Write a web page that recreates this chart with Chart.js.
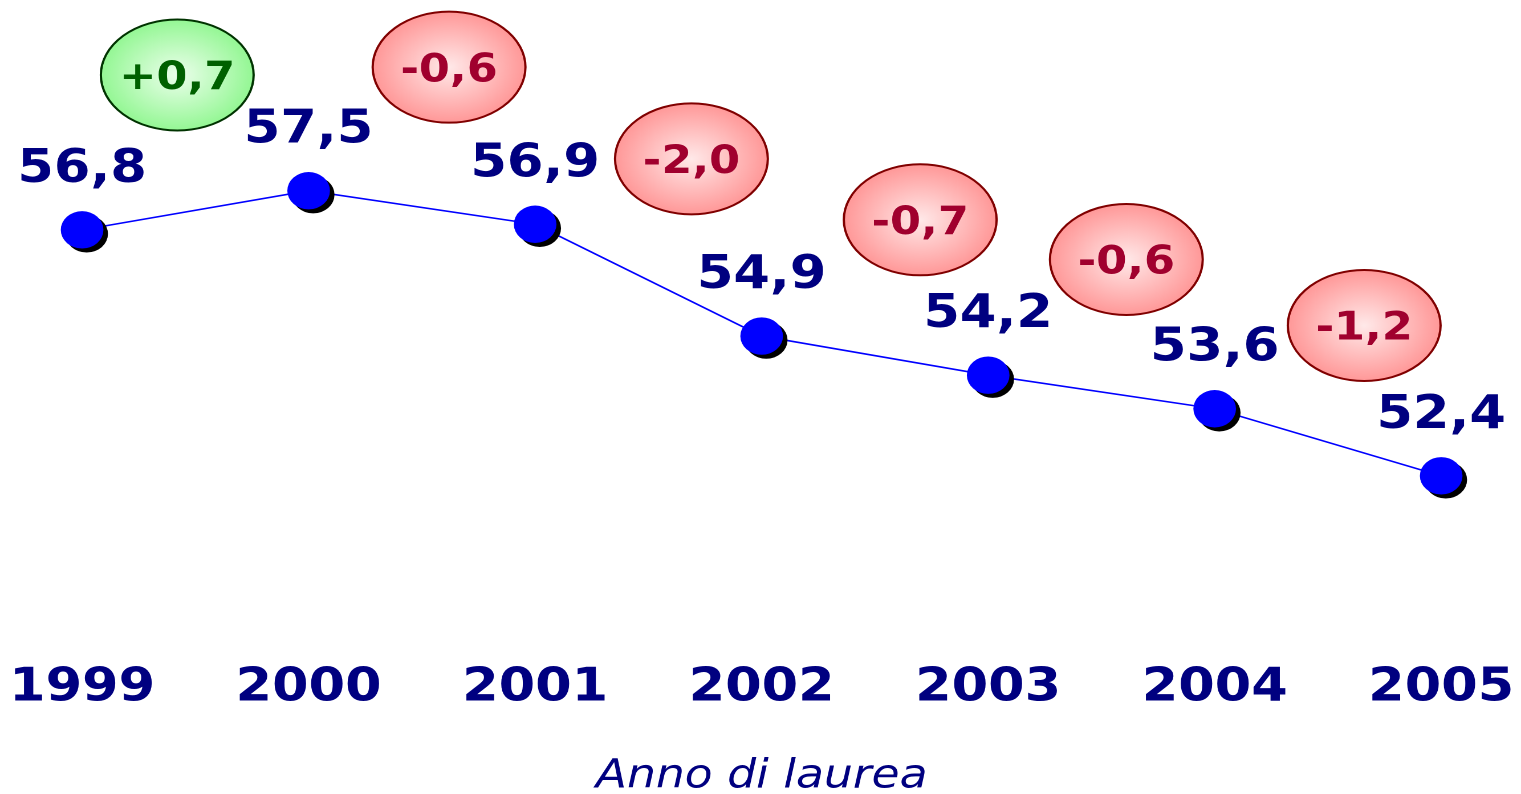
<!DOCTYPE html>
<html>
<head>
<meta charset="utf-8">
<script src="https://cdn.jsdelivr.net/npm/chart.js@4.4.1/dist/chart.umd.min.js"></script>
<style>
  html, body { margin: 0; padding: 0; background: #ffffff; overflow: hidden; }
  #wrap { width: 1334px; height: 794px; transform: scaleX(1.14018); transform-origin: 0 0; }
</style>
</head>
<body>
<div id="wrap"><canvas id="c" width="1334" height="794"></canvas></div>
<script>
// ---- data ----
const years  = ['1999', '2000', '2001', '2002', '2003', '2004', '2005'];
const values = [56.8, 57.5, 56.9, 54.9, 54.2, 53.6, 52.4];
const diffs  = [0.7, -0.6, -2.0, -0.7, -0.6, -1.2];
const axisTitle = 'Anno di laurea';

const FONT = "'DejaVu Sans', 'Verdana', sans-serif";
const fmt = v => v.toFixed(1).replace('.', ',');
const fmtDiff = v => (v > 0 ? '+' : '') + fmt(v);

const points = values.map((v, i) => ({ x: i, y: v }));

const annotPlugin = {
  id: 'annot',
  beforeDatasetDraw(chart, args) {
    if (args.index === 0) {
      const ctx = chart.ctx;
      const r = chart.currentDevicePixelRatio || 1;
      ctx.save();
      ctx.shadowColor = '#000000';
      ctx.shadowBlur = 0;
      ctx.shadowOffsetX = 4 * r;
      ctx.shadowOffsetY = 4 * r;
    }
  },
  afterDatasetDraw(chart, args) {
    if (args.index === 0) chart.ctx.restore();
  },
  afterDatasetsDraw(chart, args, opts) {
    const ctx = chart.ctx;
    const xs = chart.scales.x, ys = chart.scales.y;
    const RX = 67, RY = 55.5;
    diffs.forEach((d, i) => {
      const cx = xs.getPixelForValue(opts.anchorX[i]);
      const cy = ys.getPixelForValue(opts.anchorY[i]);
      const up = d > 0;
      ctx.save();
      ctx.translate(cx, cy);
      ctx.scale(1, RY / RX);
      const g = ctx.createRadialGradient(0, 0, 0, 0, 0, RX);
      g.addColorStop(0, up ? '#ecffec' : '#ffe9e9');
      g.addColorStop(1, up ? '#94f794' : '#ff9898');
      ctx.beginPath();
      ctx.arc(0, 0, RX, 0, Math.PI * 2);
      ctx.fillStyle = g;
      ctx.fill();
      ctx.restore();
      ctx.save();
      ctx.beginPath();
      ctx.ellipse(cx, cy, RX, RY, 0, 0, Math.PI * 2);
      ctx.lineWidth = 2;
      ctx.strokeStyle = up ? '#003300' : '#800000';
      ctx.stroke();
      const fs = 39;
      ctx.font = 'bold ' + fs + 'px ' + FONT;
      ctx.textAlign = 'center';
      ctx.textBaseline = 'alphabetic';
      ctx.fillStyle = up ? '#006000' : '#a0002e';
      ctx.fillText(fmtDiff(d), cx, cy + 0.3645 * fs);
      ctx.restore();
    });
    const meta = chart.getDatasetMeta(0);
    ctx.save();
    ctx.font = 'bold 46px ' + FONT;
    ctx.textAlign = 'center';
    ctx.textBaseline = 'alphabetic';
    ctx.fillStyle = '#000080';
    meta.data.forEach((el, i) => {
      ctx.fillText(fmt(values[i]), el.x, el.y - 48);
    });
    ctx.restore();
  }
};

new Chart(document.getElementById('c'), {
  type: 'line',
  data: {
    datasets: [
      {
        data: points,
        showLine: false,
        pointRadius: 18.7,
        pointHoverRadius: 18.7,
        pointBackgroundColor: '#0000ff',
        pointBorderWidth: 0,
        borderColor: '#0000ff'
      },
      {
        data: points,
        borderColor: '#0000ff',
        borderWidth: 1.6,
        pointRadius: 0,
        tension: 0,
        fill: false
      }
    ]
  },
  options: {
    responsive: false,
    animation: false,
    devicePixelRatio: 2,
    clip: false,
    layout: { padding: { left: 72, right: 70, top: 23, bottom: 0 } },
    plugins: {
      legend: { display: false },
      tooltip: { enabled: false },
      annot: {
        anchorX: [0.42, 1.62, 2.69, 3.70, 4.61, 5.66],
        anchorY: [59.57, 59.71, 58.07, 56.98, 56.27, 55.09]
      }
    },
    scales: {
      x: {
        type: 'linear',
        min: 0,
        max: 6,
        grid: { display: false, drawTicks: true, tickLength: 51 },
        border: { display: false },
        afterFit: s => { s.height = 184; },
        ticks: {
          stepSize: 1,
          autoSkip: false,
          maxRotation: 0,
          padding: 0,
          color: '#000080',
          font: { family: FONT, weight: 'bold', size: 46 },
          callback: v => years[v] !== undefined ? years[v] : ''
        },
        title: {
          display: true,
          text: axisTitle,
          color: '#000080',
          font: { family: FONT, style: 'italic', size: 40, lineHeight: 1 },
          padding: { top: 0, bottom: -3 }
        }
      },
      y: {
        display: false,
        min: 50,
        max: 60.5
      }
    }
  },
  plugins: [annotPlugin]
});
</script>
</body>
</html>
